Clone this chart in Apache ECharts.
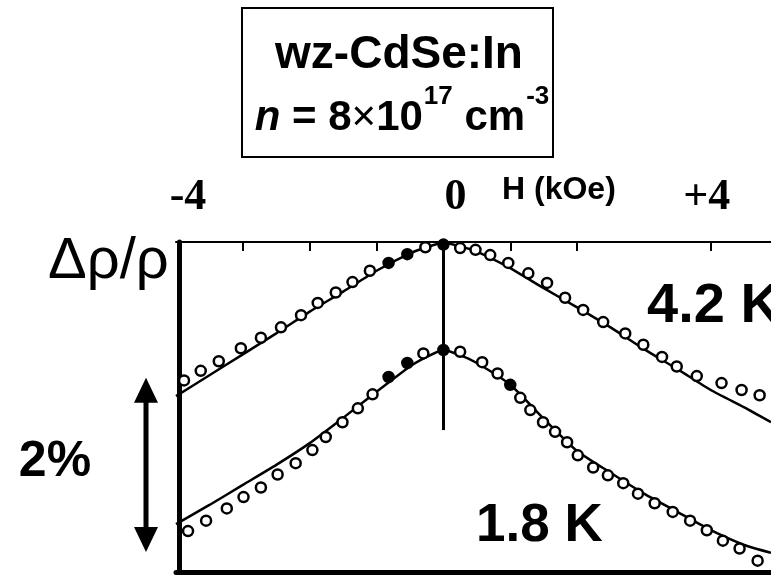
<!DOCTYPE html>
<html><head><meta charset="utf-8">
<script src="https://cdn.jsdelivr.net/npm/echarts@6/dist/echarts.min.js"></script>
<style>html,body{margin:0;padding:0;background:#fff}#c{width:771px;height:577px}</style>
</head><body><div id="c"></div>
<script>
// Field H (kOe) for the fitted curves
const hFit = [-4, -3.5, -3, -2.5, -2, -1.5, -1, -0.5, -0.25, 0, 0.25, 0.5, 1, 1.5, 2, 2.5, 3, 3.5, 4, 4.5, 4.9];
// Fitted Δρ/ρ (%) curves, with vertical offset
const fit42 = [-1.77, -1.53, -1.29, -1.05, -0.80, -0.57, -0.33, -0.13, -0.06, -0.01, -0.05, -0.11, -0.30, -0.53, -0.75, -0.98, -1.23, -1.46, -1.70, -1.90, -2.07];
const fit18 = [-3.24, -3.02, -2.79, -2.56, -2.31, -2.02, -1.72, -1.43, -1.32, -1.24, -1.30, -1.39, -1.64, -2.03, -2.40, -2.65, -2.89, -3.10, -3.31, -3.48, -3.57];
// Measured points, 4.2 K
const h42 = [-3.88, -3.63, -3.36, -3.03, -2.73, -2.43, -2.13, -1.88, -1.61, -1.36, -1.10, -0.82, -0.54, -0.27, 0, 0.25, 0.48, 0.70, 0.97, 1.27, 1.55, 1.82, 2.09, 2.39, 2.72, 2.99, 3.27, 3.49, 3.79, 4.16, 4.46, 4.73];
const r42 = [-1.59, -1.48, -1.37, -1.22, -1.10, -0.98, -0.84, -0.70, -0.58, -0.46, -0.33, -0.24, -0.14, -0.06, -0.03, -0.07, -0.09, -0.15, -0.24, -0.36, -0.47, -0.64, -0.78, -0.92, -1.05, -1.18, -1.32, -1.43, -1.54, -1.62, -1.70, -1.76];
const filled42 = [11, 12, 14];
// Measured points, 1.8 K
const h18 = [-3.82, -3.55, -3.24, -2.99, -2.73, -2.48, -2.21, -1.96, -1.76, -1.51, -1.28, -1.06, -0.82, -0.54, -0.30, 0, 0.25, 0.58, 0.81, 1.00, 1.15, 1.30, 1.49, 1.67, 1.85, 2.01, 2.24, 2.46, 2.69, 2.91, 3.16, 3.43, 3.69, 3.94, 4.18, 4.43, 4.70];
const r18 = [-3.32, -3.20, -3.06, -2.93, -2.82, -2.67, -2.54, -2.39, -2.24, -2.07, -1.91, -1.75, -1.55, -1.39, -1.28, -1.24, -1.26, -1.38, -1.51, -1.64, -1.79, -1.93, -2.07, -2.18, -2.30, -2.45, -2.59, -2.68, -2.77, -2.89, -3.00, -3.10, -3.20, -3.31, -3.43, -3.52, -3.66];
const filled18 = [12, 13, 15, 19];
// Axis / annotation texts
const xTickValues = [-4, 0, 4];
const xTickLabels = ['-4', '0', '+4'];
const xMinorTicks = [-3, -2, -1, 1, 2, 4];
const xAxisName = 'H (kOe)';
const yAxisName = 'Δρ/ρ';
const centerLine = [0, 0, -2.16];     // H, from, to
const scaleBar = [-1.56, -3.56];      // 2 % span
const scaleBarLabel = '2%';
const curveLabels = ['4.2 K', '1.8 K'];
const titleLine1 = 'wz-CdSe:In';

const chart = echarts.init(document.getElementById('c'), null, {renderer: 'canvas'});
const zip = (a, b) => a.map((v, i) => [v, b[i]]);
function pts(h, r, filled) {
  return h.map((v, i) => filled.includes(i)
    ? {value: [v, r[i]], itemStyle: {color: '#000'}}
    : [v, r[i]]);
}
const lineS = d => ({
  type: 'line', data: d, showSymbol: false, smooth: 0.2,
  lineStyle: {color: '#000', width: 2.5}, silent: true, z: 2
});
const scatS = d => ({
  type: 'scatter', data: d, symbol: 'circle', symbolSize: 10, clip: false,
  itemStyle: {color: '#fff', borderColor: '#000', borderWidth: 2.5, opacity: 1}, z: 3, silent: true
});

const option = {
  animation: false,
  backgroundColor: '#fff',
  grid: {left: 176, right: 0, top: 242, bottom: 5, containLabel: false},
  xAxis: [
    {type: 'value', position: 'top', min: -4, max: 4.9, interval: 1,
     axisLine: {show: true, onZero: false, lineStyle: {color: '#000', width: 2}},
     axisTick: {show: true, inside: true, length: 9, customValues: xMinorTicks, lineStyle: {color: '#000', width: 2}},
     axisLabel: {show: false}, splitLine: {show: false}},
    {type: 'value', position: 'bottom', min: -4, max: 4.9, interval: 1,
     axisLine: {show: true, onZero: false, lineStyle: {color: '#000', width: 5}},
     axisTick: {show: false}, axisLabel: {show: false}, splitLine: {show: false}}
  ],
  yAxis: {type: 'value', min: -3.79, max: 0, offset: -3,
    axisLine: {show: true, onZero: false, lineStyle: {color: '#000', width: 5}},
    axisTick: {show: false}, axisLabel: {show: false}, splitLine: {show: false}},
  series: [
    Object.assign(lineS(zip(hFit, fit42)), {
      markLine: {silent: true, symbol: 'none', label: {show: false},
        lineStyle: {color: '#000', width: 3, type: 'solid'},
        data: [[{coord: [centerLine[0], centerLine[1]]}, {coord: [centerLine[0], centerLine[2]]}]]}
    }),
    lineS(zip(hFit, fit18)),
    scatS(pts(h42, r42, filled42)),
    scatS(pts(h18, r18, filled18))
  ]
};
chart.setOption(option);

const px = (x, y) => chart.convertToPixel({seriesIndex: 0}, [x, y]);
const SANS = '"Liberation Sans", Arial, sans-serif';
const SERIF = '"Liberation Serif", "Times New Roman", serif';
const ctx = document.createElement('canvas').getContext('2d');
function tw(t, font) { ctx.font = font; return ctx.measureText(t).width; }
function txt(t, x, y, font, align) {
  return {type: 'text', silent: true, z: 10,
    style: {text: t, x: x, y: y, font: font, fill: '#000', textAlign: align || 'left', textVerticalAlign: 'middle'}};
}
const g = [];
// title box
g.push({type: 'rect', silent: true, shape: {x: 242, y: 8, width: 311, height: 149},
  style: {fill: 'none', stroke: '#000', lineWidth: 2}});
g.push(txt(titleLine1, 399, 55, 'bold 46px ' + SANS, 'center'));
// line 2 : n = 8×10^17 cm^-3
const big = 'bold 42px ' + SANS, bigI = 'italic bold 42px ' + SANS, sup = 'bold 26px ' + SANS;
const segs = [['n', bigI, 0, 0], [' = 8', big, 0, 0], ['\u00d7', '42px ' + SANS, 0, 0], ['10', big, 0, 0], ['17', sup, 1, 1], [' cm', big, 0, 0], ['-3', sup, 1, 1]];
let total = segs.reduce((s, a) => s + tw(a[0], a[1]) + a[3], 0);
let cx = 402 - total / 2;
segs.forEach(a => { cx += a[3]; g.push(txt(a[0], cx, a[2] ? 97 : 118, a[1], 'left')); cx += tw(a[0], a[1]); });
// top tick labels
const offs = [12, 12, -4];
xTickValues.forEach((v, i) => {
  const p = px(v, 0);
  g.push(txt(xTickLabels[i], p[0] + offs[i], 198, 'bold 44px ' + SERIF, 'center'));
});
g.push(txt(xAxisName, 502, 190, 'bold 32px ' + SANS, 'left'));
g.push(txt(yAxisName, 48, 262, '58px ' + SANS, 'left'));
// curve labels
g.push(txt(curveLabels[0], 647, 307, 'bold 56px ' + SANS, 'left'));
g.push(txt(curveLabels[1], 476, 526, 'bold 53px ' + SANS, 'left'));
// scale bar arrow
const a1 = px(0, scaleBar[0]), a2 = px(0, scaleBar[1]);
const ax = 146, yt = a1[1], yb = a2[1];
g.push({type: 'line', silent: true, shape: {x1: ax, y1: yt + 20, x2: ax, y2: yb - 20}, style: {stroke: '#000', lineWidth: 5}});
g.push({type: 'polygon', silent: true, shape: {points: [[ax, yt], [ax - 12, yt + 25], [ax + 12, yt + 25]]}, style: {fill: '#000'}});
g.push({type: 'polygon', silent: true, shape: {points: [[ax, yb], [ax - 12, yb - 25], [ax + 12, yb - 25]]}, style: {fill: '#000'}});
g.push(txt(scaleBarLabel, 55, 462, 'bold 50px ' + SANS, 'center'));
chart.setOption({graphic: g});
</script>
</body></html>
